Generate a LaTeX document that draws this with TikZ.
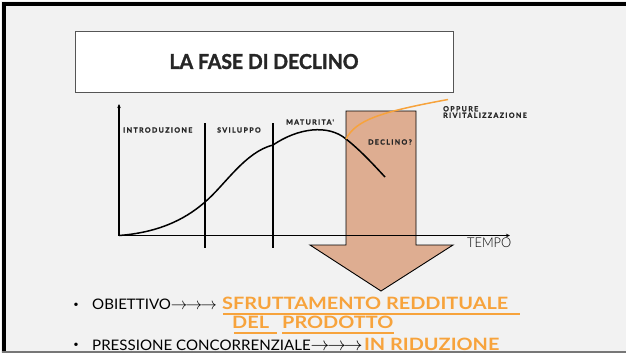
\documentclass[tikz,border=0pt]{standalone}
\usepackage{fontspec}
\setmainfont{Lato}
\newfontfamily\titlefont[FakeStretch=0.95,FakeBold=1.5]{Lato Bold}
\newfontfamily\phasefont[LetterSpace=20,FakeBold=1.5]{Lato Bold}
\newfontfamily\bodyfont[FakeStretch=1.04]{Lato}
\newfontfamily\hilitefont[FakeStretch=1.17]{Lato Bold}
\newfontfamily\tempofont[FakeStretch=0.95]{Lato Light}
\usetikzlibrary{arrows.meta}
\definecolor{bg}{HTML}{F2F2F2}
\definecolor{tan}{HTML}{DEAD91}
\definecolor{orng}{HTML}{F7A33C}
\definecolor{frame}{HTML}{555555}
\newcommand{\arrs}[1]{\resizebox{#1}{!}{$\rightarrow\mkern-2mu\rightarrow\mkern-2mu\rightarrow$}}
\tikzset{
  phase/.style={font=\phasefont\fontsize{7}{7.5}\selectfont, text=black!85, inner sep=0pt, anchor=west},
  divider/.style={line width=1.3pt, black},
  bodytext/.style={font=\bodyfont\fontsize{14.5}{16}\selectfont, inner sep=0pt, anchor=base west},
  bul/.style={font=\bodyfont\fontsize{9}{10}\selectfont, inner sep=0pt, anchor=center},
  hilite/.style={font=\hilitefont\fontsize{17}{19}\selectfont, text=orng, inner sep=0pt, anchor=base west},
  uline/.style={orng, line width=2pt},
}
\begin{document}
\begin{tikzpicture}[x=1pt,y=-1pt]
\useasboundingbox (0,0) rectangle (626,354);
\fill[white] (0,0) rectangle (626,354);
\fill[bg] (1,1) rectangle (626,353);
\draw[black, line width=4pt] (4,353) -- (4,4) -- (626,4);

% title
\node[draw=frame, line width=1pt, fill=white, minimum width=378pt, minimum height=61pt, inner sep=0pt,
      font=\titlefont\fontsize{20.5}{22}\selectfont, text=black!85] (title) at (264,61.5) {LA FASE DI DECLINO};

% block arrow
\draw[black, line width=0.9pt, fill=tan]
  (346,111) coordinate (r1) -- (416,111) -- (416,245) -- (453,245) -- (381,291) coordinate (tip)
  -- (310,245) -- (346,245) -- cycle;

% axes
\coordinate (O) at (119,235.5);
\coordinate (ytop) at (119,104);
\coordinate (xend) at (510,235.5);
\draw[line width=1.2pt, -{Stealth[length=4pt,width=3.5pt]}] (O) -- (ytop);
\draw[line width=1.2pt, -{Stealth[length=4pt,width=3.5pt]}] (O) -- (xend);

% dividers
\coordinate (d1t) at (205,123); \coordinate (d1b) at (205,248);
\coordinate (d2t) at (273,123); \coordinate (d2b) at (273,248);
\draw[divider] (d1t) -- (d1b);
\draw[divider] (d2t) -- (d2b);

% curve
\coordinate (c0) at (119,235.5);
\coordinate (c1) at (205,202);
\coordinate (c2) at (273,145);
\coordinate (c3) at (346,139);
\coordinate (c4) at (385,177);
\draw[line width=1.5pt, black] (c0) .. controls (165,232) and (190,215) .. (c1)
  .. controls (225,185) and (245,152) .. (c2)
  .. controls (298,128) and (328,124) .. (c3)
  .. controls (360,150) and (372,163) .. (c4);

% orange revival curve
\coordinate (o1) at (448,99.5);
\draw[orng, line width=1.5pt] (c3) .. controls (356,120) and (380,112) .. (o1);

% labels
\node[phase] (intro) at (123,130) {INTRODUZIONE};
\node[phase] (svil) at (217,130) {SVILUPPO};
\node[phase] (mat) at (286,122) {MATURITA'};
\node[phase] (decl) at (368,142) {DECLINO?};
\node[phase, align=left] (opp) at (443,112) {OPPURE\\[-1pt]RIVITALIZZAZIONE};
\node[font=\tempofont\fontsize{13.5}{14}\selectfont, inner sep=0pt, anchor=west] (tempo) at (467,243) {TEMPO};

% bullets
\node[bul] (b1) at (76,305) {•};
\node[bodytext] (t1) at (92,309.5) {OBIETTIVO\arrs{46pt}};
\node[hilite] (h1) at (222,309) {SFRUTTAMENTO REDDITUALE};
\node[hilite] (h2a) at (232,328.5) {DEL};
\node[hilite] (h2b) at (282,328.5) {PRODOTTO};
\coordinate (u1a) at (223,313.5); \coordinate (u1b) at (520,313.5);
\draw[uline] (u1a) -- (u1b);
\coordinate (u2a) at (234,332.5); \coordinate (u2b) at (277,332.5);
\coordinate (u3a) at (282,332.5); \coordinate (u3b) at (394,332.5);
\draw[uline] (u2a) -- (u2b);
\draw[uline] (u3a) -- (u3b);
\node[bul] (b2) at (76,345.5) {•};
\node[bodytext] (t2) at (92,350) {PRESSIONE CONCORRENZIALE\arrs{52pt}};
\node[hilite] (h3) at ([xshift=1pt]t2.base east) {IN RIDUZIONE};

% bottom edge of the slide
\fill[white] (0,353) rectangle (626,354);
\draw[frame!80, line width=1.5pt] (1.5,352) -- (626,352);
\end{tikzpicture}
\end{document}
